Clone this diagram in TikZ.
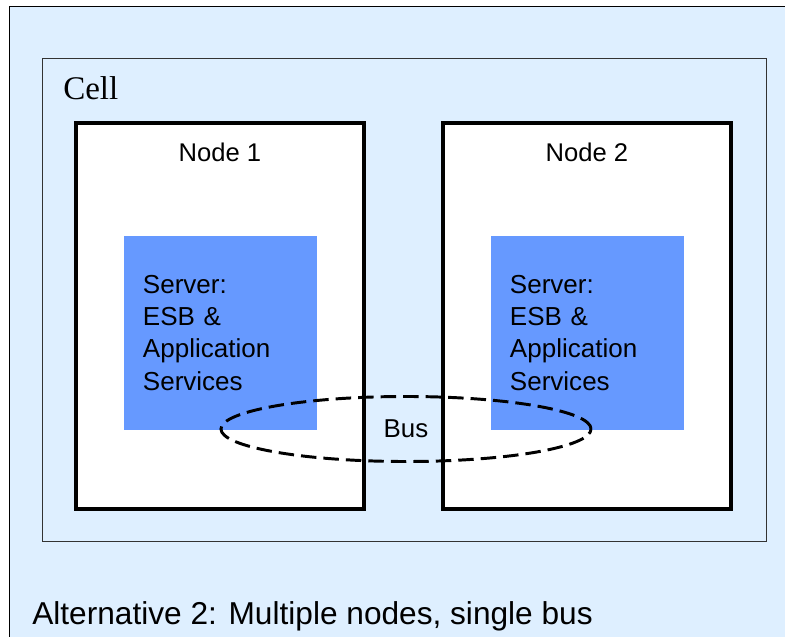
\documentclass[tikz,border=0pt]{standalone}
\usepackage{fontspec}
\setmainfont{Liberation Serif}
\setsansfont{Liberation Sans}
\usetikzlibrary{shapes.geometric,positioning}
\definecolor{bgblue}{RGB}{222,239,255}
\definecolor{srvblue}{RGB}{102,153,255}

\begin{document}
\begin{tikzpicture}[x=0.025cm, y=-0.025cm,
    frame/.style={draw=black, line width=0.7pt, fill=bgblue},
    cellbox/.style={draw=black!80, line width=0.7pt, minimum width=18.075cm, minimum height=12.05cm, inner sep=0pt},
    nodebox/.style={draw, line width=2.8pt, fill=white, minimum width=7.2cm, minimum height=9.65cm, inner sep=0pt},
    srv/.style={fill=srvblue, minimum width=4.825cm, minimum height=4.85cm, inner sep=0pt},
    srvtxt/.style={font=\sffamily\fontsize{18.5}{22.8}\selectfont, text width=3.875cm, align=left, inner sep=0pt},
    ttl/.style={font=\sffamily\fontsize{18.2}{22}\selectfont, inner sep=0pt, anchor=base},
    bus/.style={draw, ellipse, dashed, dash pattern=on 11pt off 5pt, line width=2.1pt, minimum width=9.25cm, minimum height=1.625cm, font=\sffamily\fontsize{18.4}{22}\selectfont, inner sep=0pt},
    captxt/.style={font=\sffamily\fontsize{22.5}{27}\selectfont, inner sep=0pt, anchor=base west}
]
\useasboundingbox (0,0) rectangle (785,637);
\clip (0,0) rectangle (785,637);

% background frame
\draw[frame] (9,6) rectangle (800,650);

% cell
\node[cellbox] (cell) at (404.5,300) {};
\node[font=\fontsize{23.5}{28}\selectfont, inner sep=0pt, anchor=base west] (celllbl) at (63,100) {Cell};

% nodes
\node[nodebox] (n1) at (220,316) {};
\node[ttl] (n1lbl) at (220,162) {Node 1};
\node[nodebox] (n2) at (587,316) {};
\node[ttl] (n2lbl) at (587,162) {Node 2};

% servers
\node[srv] (s1) at (220.5,333) {};
\node[srvtxt] (s1txt) at (s1.center) {Server:\\ESB \&\\Application\\Services};
\node[srv] (s2) at (587.5,333) {};
\node[srvtxt] (s2txt) at (s2.center) {Server:\\ESB \&\\Application\\Services};

% bus
\node[bus] (bus) at (406,429) {Bus};

% caption
\node[captxt] (caption) at (32,624) {Alternative 2: Multiple nodes, single bus};
\end{tikzpicture}
\end{document}
